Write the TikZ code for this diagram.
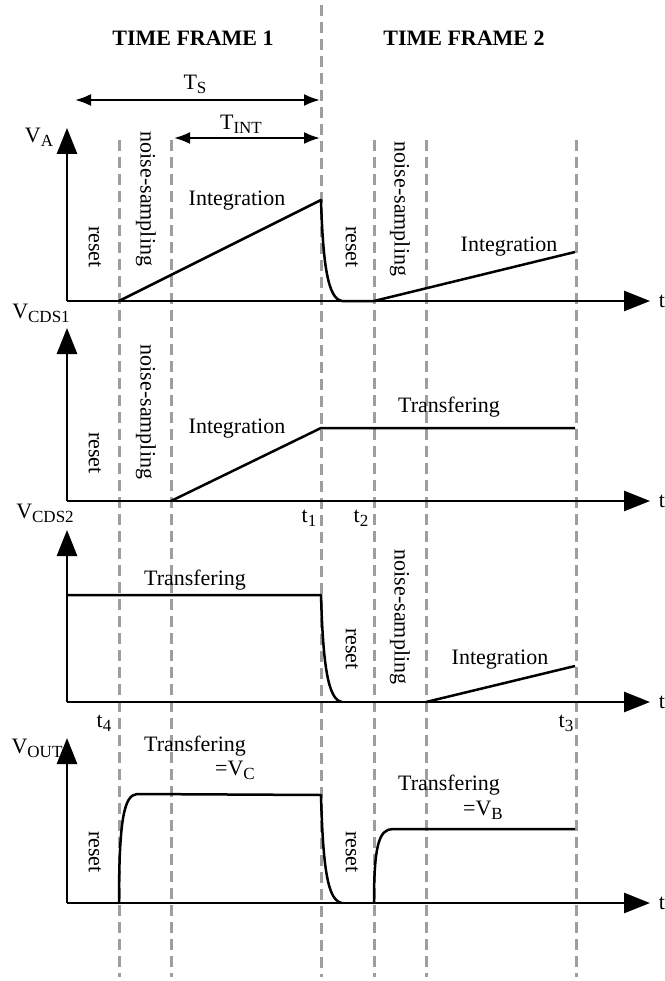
\documentclass[tikz,border=0pt]{standalone}
\usepackage{fontspec}
\setmainfont{Liberation Serif}
\usetikzlibrary{arrows.meta}

\newcommand{\lo}[1]{\raisebox{-4pt}{\fontsize{17}{17}\selectfont #1}}

\tikzset{
   axis/.style={line width=2.6pt, -{Triangle[length=26pt,width=20pt]}},
   signal/.style={line width=2.5pt, line join=round},
   guide/.style={black!38, line width=3pt, dash pattern=on 11pt off 6pt},
   span/.style={line width=2.2pt,
      {Latex[length=16pt,width=12pt]}-{Latex[length=16pt,width=12pt]}},
   lbl/.style={font=\fontsize{22}{26}\selectfont, inner sep=0pt},
   phase/.style={lbl, rotate=-90},
}

\begin{document}
\begin{tikzpicture}[x=1pt, y=-1pt]
      \useasboundingbox (0,0) rectangle (664,981);

      % guide lines
      \draw [guide] (321,5) -- (321,977);
      \foreach \x in {119,171,374,426,576}
         \draw [guide] (\x,140) -- (\x,977);

      % axes
      \foreach \name/\base/\tip in {va/301/128, cdsa/501/328, cdsb/702/530, vout/903/738} {
         \coordinate (\name) at (67,\base);
         \coordinate (\name-y) at (67,\tip);
         \coordinate (\name-x) at (650,\base);
         \draw [axis] (\name) -- (\name-y);
         \draw [axis] (\name) -- (\name-x);
         \node (\name-t) at (662,\base) [lbl] {t};
      }

      \node (frame1) at (193,38) [lbl, font=\fontsize{22}{26}\selectfont\bfseries] {TIME FRAME 1};
      \node (frame2) at (464,38) [lbl, font=\fontsize{22}{26}\selectfont\bfseries] {TIME FRAME 2};

      \coordinate (ts-a) at (75,100);
      \coordinate (ts-b) at (320,100);
      \coordinate (tint-a) at (174,138);
      \coordinate (tint-b) at (320,138);
      \draw [span] (ts-a) -- (ts-b);
      \draw [span] (tint-a) -- (tint-b);
      \node (ts) at (195,84) [lbl] {T\lo{S}};
      \node (tint) at (241,124) [lbl] {T\lo{INT}};

      \node (lva) at (39,137) [lbl] {V\lo{A}};
      \node (lcdsa) at (41,313) [lbl] {V\lo{CDS1}};
      \node (lcdsb) at (45,513) [lbl] {V\lo{CDS2}};
      \node (lvout) at (37,748) [lbl] {V\lo{OUT}};

      \node (t1) at (309,518) [lbl] {t\lo{1}};
      \node (t2) at (361,518) [lbl] {t\lo{2}};
      \node (t4) at (104,723) [lbl] {t\lo{4}};
      \node (t3) at (566,723) [lbl] {t\lo{3}};

      % V_A
      \draw [signal] (119,301) -- (321,200)
         .. controls (323,265) and (328,299) .. (342,301) -- (374,301) -- (575,252);
      \node (pa-reset1) at (95,247) [phase] {reset};
      \node (pa-noise1) at (146,199) [phase] {noise-sampling};
      \node (pa-int1) at (237,201) [lbl] {Integration};
      \node (pa-reset2) at (352,247) [phase] {reset};
      \node (pa-noise2) at (400,209) [phase] {noise-sampling};
      \node (pa-int2) at (509,247) [lbl] {Integration};

      % V_CDS1
      \draw [signal] (171,501) -- (321,428) -- (575,428);
      \node (pb-reset) at (95,453) [phase] {reset};
      \node (pb-noise) at (146,412) [phase] {noise-sampling};
      \node (pb-int) at (237,429) [lbl] {Integration};
      \node (pb-tr) at (449,407) [lbl] {Transfering};

      % V_CDS2
      \draw [signal] (67,595) -- (321,595)
         .. controls (323,665) and (328,700) .. (342,702);
      \draw [signal] (426,702) -- (575,666);
      \node (pc-tr) at (195,580) [lbl] {Transfering};
      \node (pc-reset) at (352,649) [phase] {reset};
      \node (pc-noise) at (400,617) [phase] {noise-sampling};
      \node (pc-int) at (500,660) [lbl] {Integration};

      % V_OUT
      \draw [signal] (119,903) .. controls (119,820) and (124,795) .. (137,794)
         -- (321,795) .. controls (323,870) and (328,901) .. (342,903);
      \draw [signal] (374,903) .. controls (374,845) and (379,829) .. (393,829)
         -- (575,829);
      \node (pd-tr1) at (195,746) [lbl] {Transfering};
      \node (pd-vc) at (235,770) [lbl] {=V\lo{C}};
      \node (pd-tr2) at (449,785) [lbl] {Transfering};
      \node (pd-vb) at (483,810) [lbl] {=V\lo{B}};
      \node (pd-reset1) at (95,852) [phase] {reset};
      \node (pd-reset2) at (352,852) [phase] {reset};
   \end{tikzpicture}
\end{document}
